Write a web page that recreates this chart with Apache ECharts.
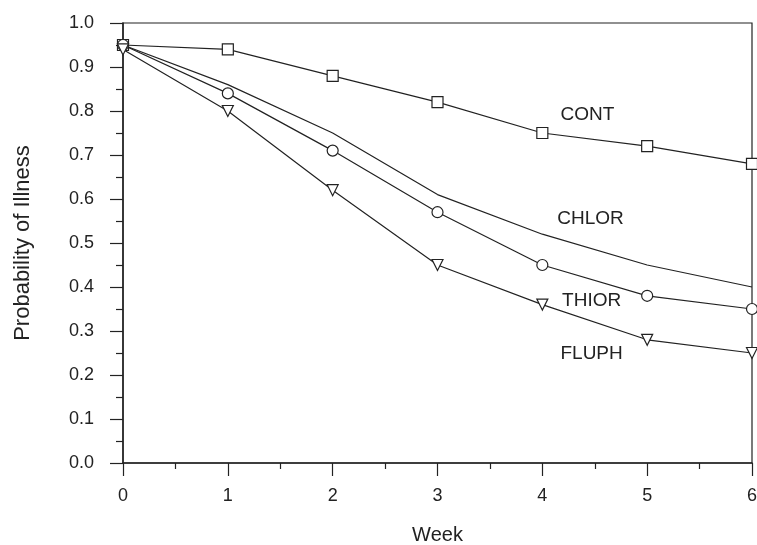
<!DOCTYPE html>
<html>
<head>
<meta charset="utf-8">
<script src="https://cdn.jsdelivr.net/npm/echarts@6/dist/echarts.min.js"></script>
<style>
  html, body { margin: 0; padding: 0; background: #fff; }
  #chart { width: 757px; height: 545px; }
</style>
</head>
<body>
<div id="chart"></div>
<script>
  var weeks = [0, 1, 2, 3, 4, 5, 6];
  var cont = [0.95, 0.94, 0.88, 0.82, 0.75, 0.72, 0.68];
  var chlor = [0.95, 0.86, 0.75, 0.61, 0.52, 0.45, 0.40];
  var thior = [0.95, 0.84, 0.71, 0.57, 0.45, 0.38, 0.35];
  var fluph = [0.94, 0.80, 0.62, 0.45, 0.36, 0.28, 0.25];
  // where the series names sit, in data units (week, probability)
  var labelNames = ['CONT', 'CHLOR', 'THIOR', 'FLUPH'];
  var labelPos = [[4.43, 0.791], [4.46, 0.554], [4.47, 0.368], [4.47, 0.248]];

  var ink = '#222';
  var font = '"Liberation Sans", Arial, sans-serif';

  function pairs(vals) {
    var out = [];
    for (var i = 0; i < weeks.length; i++) out.push([weeks[i], vals[i]]);
    return out;
  }

  function makeSeries(name, vals, symbol, rotate) {
    return {
      name: name,
      type: 'line',
      data: pairs(vals),
      symbol: symbol,
      symbolSize: 11,
      symbolRotate: rotate || 0,
      showSymbol: symbol !== 'none',
      lineStyle: { color: ink, width: 1.2 },
      itemStyle: { color: '#fff', borderColor: ink, borderWidth: 1.2 },
      emphasis: { disabled: true },
      z: 3
    };
  }

  var chart = echarts.init(document.getElementById('chart'));
  chart.setOption({
    animation: false,
    backgroundColor: '#fff',
    grid: {
      left: 123, right: 5, top: 23, bottom: 82,
      containLabel: false, outerBoundsMode: 'none',
      show: true, borderColor: ink, borderWidth: 1.2
    },
    xAxis: {
      type: 'value',
      min: 0, max: 6, interval: 1,
      name: 'Week',
      nameLocation: 'middle',
      nameGap: 62,
      nameTextStyle: { color: ink, fontFamily: font, fontSize: 20 },
      axisLine: { show: true, lineStyle: { color: ink, width: 1.5 } },
      axisTick: { show: true, length: 13, lineStyle: { color: ink, width: 1.2 } },
      minorTick: { show: true, splitNumber: 2, length: 6, lineStyle: { color: ink, width: 1.2 } },
      axisLabel: { color: ink, fontFamily: font, fontSize: 18, margin: 24 },
      splitLine: { show: false }
    },
    yAxis: {
      type: 'value',
      min: 0, max: 1, interval: 0.1,
      name: 'Probability of Illness',
      nameLocation: 'middle',
      nameGap: 89,
      nameTextStyle: { color: ink, fontFamily: font, fontSize: 22 },
      axisLine: { show: true, lineStyle: { color: ink, width: 1.5 } },
      axisTick: { show: true, length: 13, lineStyle: { color: ink, width: 1.2 } },
      minorTick: { show: true, splitNumber: 2, length: 7, lineStyle: { color: ink, width: 1.2 } },
      axisLabel: {
        color: ink, fontFamily: font, fontSize: 18, margin: 29,
        formatter: function (v) { return v.toFixed(1); }
      },
      splitLine: { show: false }
    },
    series: [
      makeSeries('CONT', cont, 'rect'),
      makeSeries('CHLOR', chlor, 'none'),
      makeSeries('THIOR', thior, 'circle'),
      makeSeries('FLUPH', fluph, 'triangle', 180)
    ]
  });

  // series names placed through the axes' own scale
  var texts = [];
  for (var i = 0; i < labelNames.length; i++) {
    var p = chart.convertToPixel({ gridIndex: 0 }, labelPos[i]);
    texts.push({
      type: 'text',
      x: p[0], y: p[1],
      silent: true,
      style: {
        text: labelNames[i], fill: ink, fontFamily: font, fontSize: 19,
        align: 'center', verticalAlign: 'middle'
      }
    });
  }
  chart.setOption({ graphic: texts });
</script>
</body>
</html>
